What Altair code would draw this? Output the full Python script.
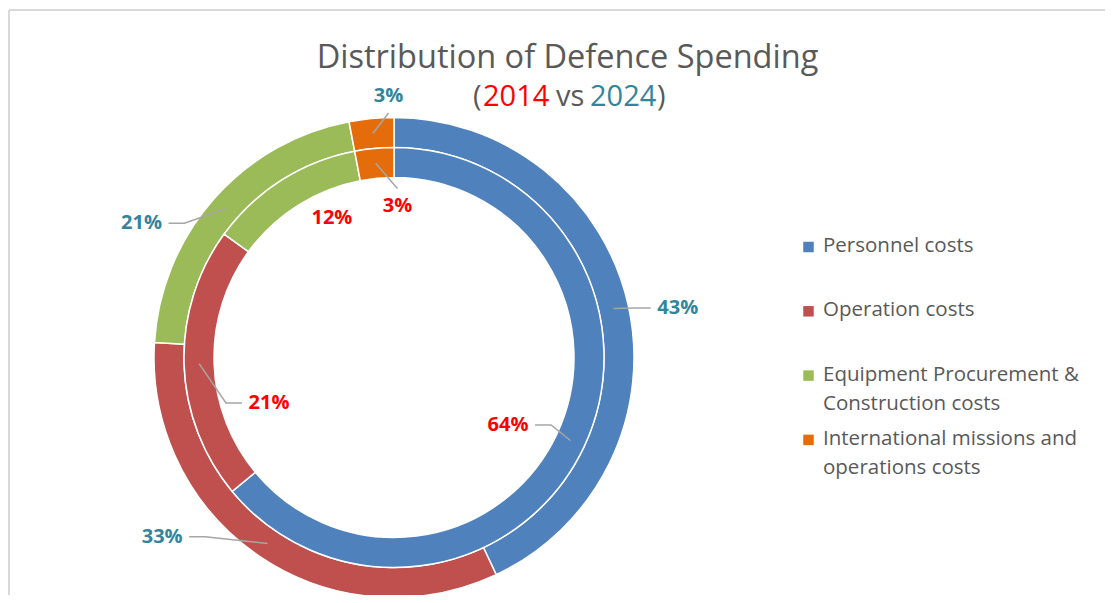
import math
import altair as alt
import pandas as pd

# ---------------- data ----------------
categories = [
    "Personnel costs",
    "Operation costs",
    "Equipment Procurement & Construction costs",
    "International missions and operations costs",
]
legend_labels = [
    "Personnel costs",
    "Operation costs",
    "Equipment Procurement &\nConstruction costs",
    "International missions and\noperations costs",
]
share_2014 = [64, 21, 12, 3]   # inner ring
share_2024 = [43, 33, 21, 3]   # outer ring
colors = ["#4F81BD", "#C0504D", "#9BBB59", "#E46C0A"]

# ---------------- layout ----------------
W, H = 1097, 587
CX, CY = 386, 349.5          # donut centre inside the plot area (px)
R_OUT = (210, 240)
R_IN = (180, 210)
# label placement: angular nudge (deg) from slice middle, and label radius
nudge_2024 = [2.7, 18.1, -13.4, 4.2]
rad_2024 = [288, 293, 286, 262]
nudge_2014 = [5.4, -18.2, 8.4, 6.7]
rad_2014 = [132.5, 133, 152.7, 151.5]
leader_2014 = [True, True, False, True]
leader_2024 = [True, True, True, True]

rows, lab_rows, lead_rows = [], [], []
for ring, vals, radii, nudges, rads, leads, lcol in [
    ("2024", share_2024, R_OUT, nudge_2024, rad_2024, leader_2024, "#31859C"),
    ("2014", share_2014, R_IN, nudge_2014, rad_2014, leader_2014, "#FF0000"),
]:
    total = sum(vals)
    cum = 0
    for i, (cat, v) in enumerate(zip(categories, vals)):
        rows.append({"ring": ring, "category": cat, "value": v, "order": i})
        mid = (cum + v / 2) / total * 360
        cum += v
        la = math.radians(mid + nudges[i])
        lx, ly = rads[i] * math.sin(la), rads[i] * math.cos(la)
        lab_rows.append({"ring": ring, "x": lx, "y": ly, "text": f"{v}%", "col": lcol})
        if not leads[i]:
            continue
        rm = (radii[0] + radii[1]) / 2
        ma = math.radians(mid)
        ax, ay = rm * math.sin(ma), rm * math.cos(ma)
        key = f"{ring}-{i}"
        if abs(lx - ax) > abs(ly - ay):
            side = 1 if lx > ax else -1
            cx_ = lx - side * 27
            bx_ = cx_ - side * 16
            pts = [(ax, ay), (bx_, ly), (cx_, ly)]
        else:
            side = 1 if ly > ay else -1
            pts = [(ax, ay), (lx, ly - side * 17.5)]
        for k, (px, py) in enumerate(pts):
            lead_rows.append({"key": key, "k": k, "x": px, "y": py})

df = pd.DataFrame(rows)
lab = pd.DataFrame(lab_rows)
lead = pd.DataFrame(lead_rows)
leg = pd.DataFrame({"category": categories, "label": legend_labels,
                    "i": list(range(len(categories)))})
one = pd.DataFrame({"n": [0]})

xs = alt.Scale(domain=[-CX, W - CX], nice=False, zero=False)
ys = alt.Scale(domain=[CY - H, CY], nice=False, zero=False)
cscale = alt.Scale(domain=categories, range=colors)

base = alt.Chart(df)


def ring_layer(ring, r):
    return base.transform_filter(alt.datum.ring == ring).mark_arc(
        radius=r[1], radius2=r[0], stroke="white", strokeWidth=1.5
    ).encode(
        theta=alt.Theta("value:Q", stack=True),
        order=alt.Order("order:Q"),
        color=alt.Color("category:N", scale=cscale, legend=None),
        x=alt.datum(0, scale=xs, type="quantitative", axis=None),
        y=alt.datum(0, scale=ys, type="quantitative", axis=None),
    )


outer = ring_layer("2024", R_OUT)
inner = ring_layer("2014", R_IN)

leaders = alt.Chart(lead).mark_line(color="#A6A6A6", strokeWidth=1.5).encode(
    x=alt.X("x:Q", scale=xs, axis=None),
    y=alt.Y("y:Q", scale=ys, axis=None),
    detail="key:N",
    order="k:Q",
)

labels = alt.Chart(lab).mark_text(
    font="Open Sans", fontSize=20, fontWeight="bold", baseline="middle", align="center"
).encode(
    x=alt.X("x:Q", scale=xs, axis=None),
    y=alt.Y("y:Q", scale=ys, axis=None),
    text="text:N",
    color=alt.Color("col:N", scale=None),
)

# ---------------- title ----------------
title = alt.Chart(one).mark_text(
    text="Distribution of Defence Spending", font="Open Sans", fontSize=32.5,
    color="#595959", align="center", baseline="alphabetic"
).encode(x=alt.value(559.5), y=alt.value(60))

sub_parts = [("(", "#595959", 465), ("2014", "#FF0000", 475), ("vs", "#595959", 548),
             ("2024", "#31859C", 582), (")", "#595959", 649)]
subs = [
    alt.Chart(one).mark_text(text=t, font="Open Sans", fontSize=29, color=c,
                             align="left", baseline="alphabetic")
    .encode(x=alt.value(px), y=alt.value(98))
    for t, c, px in sub_parts
]

# ---------------- legend ----------------
legbase = alt.Chart(leg).transform_calculate(ly="239 + datum.i * 64.3")
leg_sw = legbase.mark_square(size=110, opacity=1).encode(
    x=alt.value(800.5),
    y=alt.Y("ly:Q", scale=None),
    color=alt.Color("category:N", scale=cscale, legend=None),
)
leg_tx = legbase.transform_calculate(ty="datum.ly - 11").mark_text(
    font="Open Sans", fontSize=20.5, color="#595959", align="left", baseline="top",
    lineBreak="\n", lineHeight=29
).encode(
    x=alt.value(815),
    y=alt.Y("ty:Q", scale=None),
    text="label:N",
)

# ---------------- frame ----------------
frame_l = alt.Chart(one).mark_rule(color="#D9D9D9", strokeWidth=2).encode(
    x=alt.value(1), y=alt.value(2), y2=alt.value(H))
frame_t = alt.Chart(one).mark_rule(color="#D9D9D9", strokeWidth=2).encode(
    x=alt.value(1), x2=alt.value(W), y=alt.value(2))

chart = alt.layer(
    frame_l, frame_t, outer, inner, leaders, labels, title, *subs, leg_sw, leg_tx
).properties(
    width=W, height=H, padding=0, autosize=alt.AutoSizeParams(type="none")
).configure_view(stroke=None)

chart.save("out.html", embed_options={"renderer": "svg", "actions": False})
